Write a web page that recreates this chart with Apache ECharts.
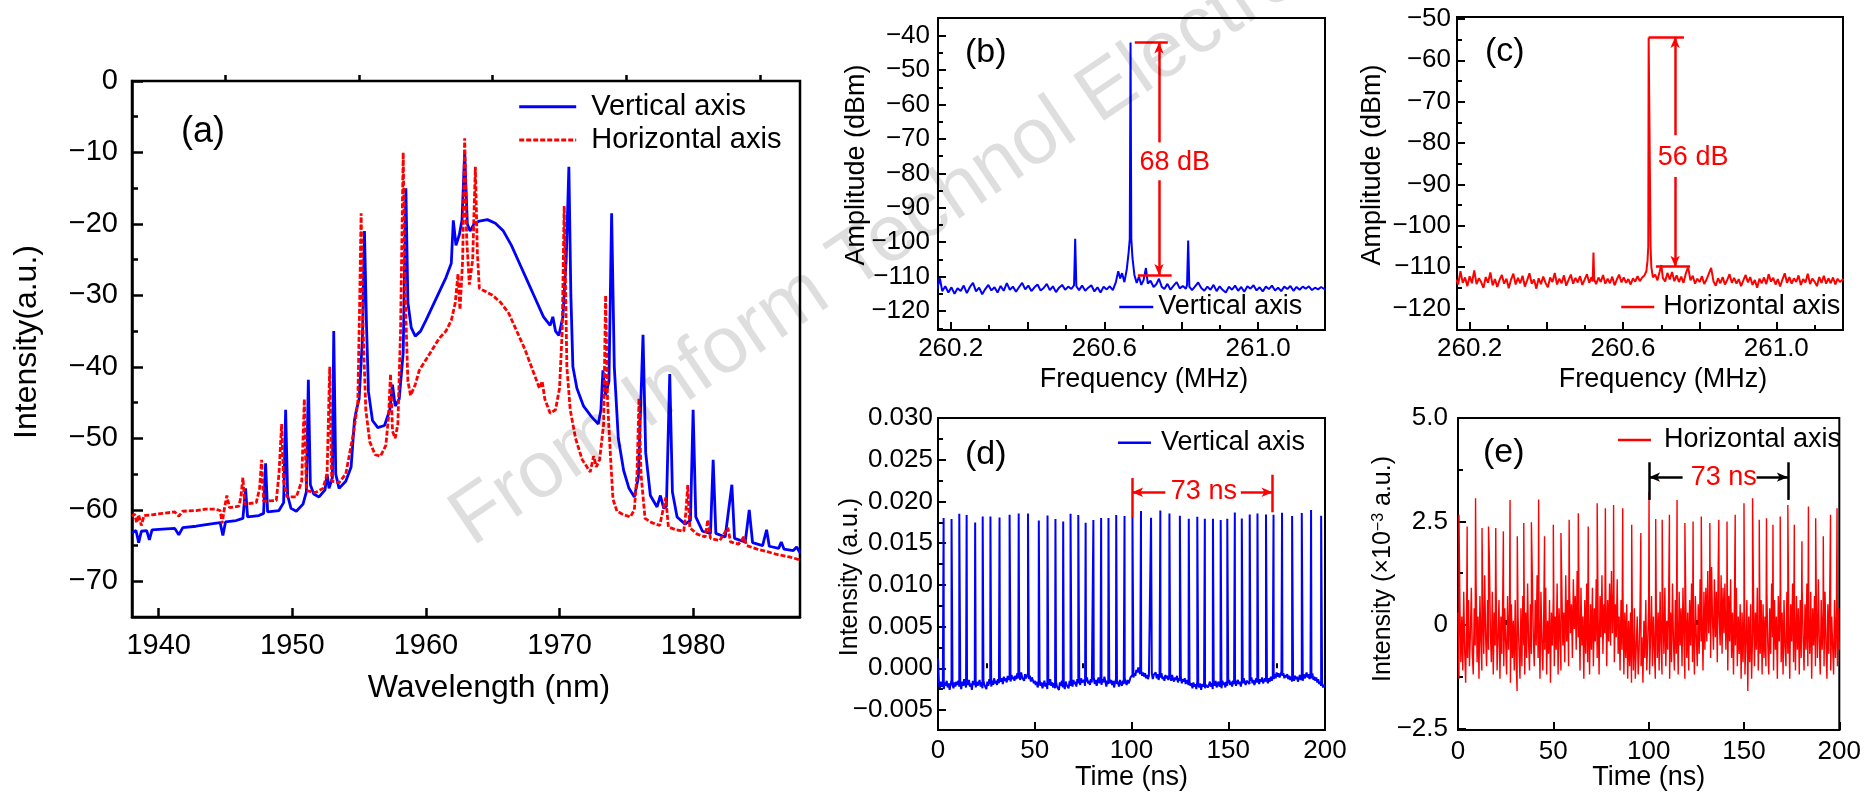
<!DOCTYPE html>
<html><head><meta charset="utf-8">
<script src="https://cdn.jsdelivr.net/npm/echarts@6/dist/echarts.min.js"></script>
<style>html,body{margin:0;padding:0;background:#fff}#c{width:1864px;height:793px}</style>
</head><body><div id="c"></div>
<script>
// ---------------- (a) optical spectra: [wavelength nm, intensity] ----------------
const aBlue = [[1938.0,-63.2],[1938.3,-62.9],[1938.5,-64.6],[1938.7,-63.0],[1939.1,-62.9],[1939.3,-64.2],[1939.5,-62.8],[1940.3,-62.7],[1941.2,-62.6],[1941.5,-63.5],[1941.8,-62.5],[1942.8,-62.3],[1943.8,-62.0],[1944.6,-61.8],[1944.8,-63.6],[1945.0,-61.7],[1945.8,-61.5],[1946.3,-61.2],[1946.5,-57.0],[1946.65,-61.0],[1947.5,-60.8],[1947.85,-60.5],[1948.0,-53.5],[1948.15,-60.3],[1949.0,-60.1],[1949.35,-59.0],[1949.5,-46.0],[1949.65,-58.0],[1949.9,-59.8],[1950.3,-60.2],[1950.8,-59.2],[1951.05,-57.5],[1951.2,-41.8],[1951.35,-56.5],[1951.6,-57.8],[1952.0,-58.2],[1952.45,-57.2],[1952.6,-55.0],[1952.75,-57.0],[1953.0,-55.5],[1953.1,-35.0],[1953.25,-55.0],[1953.5,-57.0],[1954.0,-56.0],[1954.4,-54.0],[1954.65,-47.5],[1954.8,-46.0],[1955.0,-44.5],[1955.25,-36.0],[1955.4,-21.0],[1955.55,-34.0],[1955.7,-43.5],[1956.0,-47.5],[1956.4,-48.5],[1956.9,-48.2],[1957.3,-46.0],[1957.5,-42.5],[1957.7,-45.5],[1958.0,-44.5],[1958.3,-38.0],[1958.5,-15.0],[1958.65,-31.0],[1958.9,-34.5],[1959.2,-35.7],[1959.6,-35.0],[1960.0,-33.5],[1960.5,-31.5],[1961.0,-29.5],[1961.5,-27.5],[1961.9,-25.5],[1962.05,-19.5],[1962.25,-23.0],[1962.5,-21.5],[1962.7,-19.5],[1962.9,-10.0],[1963.1,-20.0],[1963.3,-21.0],[1963.6,-20.0],[1964.0,-19.6],[1964.6,-19.4],[1965.2,-19.9],[1965.8,-21.0],[1966.4,-23.0],[1967.0,-25.5],[1967.6,-28.0],[1968.2,-30.5],[1968.8,-33.0],[1969.3,-34.2],[1969.5,-33.0],[1969.7,-35.0],[1969.95,-35.6],[1970.25,-33.0],[1970.5,-25.0],[1970.7,-12.0],[1970.85,-30.0],[1971.0,-40.0],[1971.3,-43.0],[1971.8,-45.5],[1972.4,-47.0],[1972.9,-48.0],[1973.1,-46.0],[1973.25,-40.5],[1973.45,-44.0],[1973.7,-42.0],[1973.9,-18.5],[1974.1,-40.0],[1974.4,-50.0],[1974.8,-54.5],[1975.2,-57.0],[1975.6,-58.2],[1975.9,-55.5],[1976.25,-35.5],[1976.45,-52.0],[1976.8,-58.0],[1977.3,-59.6],[1977.55,-58.0],[1977.8,-59.8],[1978.0,-59.5],[1978.25,-41.0],[1978.45,-57.5],[1978.8,-61.0],[1979.4,-62.0],[1979.8,-61.5],[1980.0,-46.0],[1980.2,-61.0],[1980.7,-63.0],[1981.3,-63.3],[1981.5,-53.0],[1981.7,-63.3],[1982.4,-63.8],[1982.9,-56.5],[1983.1,-64.0],[1983.9,-64.5],[1984.2,-60.0],[1984.45,-64.6],[1985.2,-65.0],[1985.5,-62.8],[1985.7,-65.1],[1986.4,-65.4],[1986.6,-64.5],[1986.8,-65.5],[1987.5,-65.7],[1987.75,-65.2],[1988.0,-66.0]];
const aRed = [[1938.0,-60.9],[1938.2,-60.6],[1938.35,-61.8],[1938.5,-60.7],[1938.7,-62.2],[1938.9,-60.8],[1939.5,-60.7],[1940.3,-60.5],[1941.2,-60.3],[1941.5,-60.9],[1941.8,-60.2],[1942.8,-60.1],[1943.5,-59.9],[1944.2,-59.9],[1944.6,-60.1],[1944.75,-61.9],[1944.9,-60.0],[1945.1,-58.0],[1945.3,-59.7],[1946.0,-59.5],[1946.15,-58.2],[1946.3,-55.5],[1946.45,-59.2],[1947.3,-59.0],[1947.55,-57.0],[1947.7,-53.0],[1947.85,-58.8],[1948.8,-58.7],[1949.0,-55.0],[1949.2,-48.0],[1949.35,-56.0],[1949.6,-58.2],[1950.3,-58.2],[1950.7,-56.0],[1950.9,-44.5],[1951.05,-57.3],[1951.7,-57.6],[1952.3,-57.0],[1952.6,-55.0],[1952.8,-40.0],[1952.95,-56.0],[1953.5,-56.2],[1954.0,-55.0],[1954.3,-52.0],[1954.6,-49.0],[1954.9,-45.0],[1955.05,-30.0],[1955.15,-18.5],[1955.3,-35.0],[1955.5,-46.0],[1955.8,-50.5],[1956.2,-52.3],[1956.6,-52.5],[1957.0,-51.0],[1957.2,-47.0],[1957.35,-41.0],[1957.5,-49.0],[1957.7,-50.0],[1957.9,-48.0],[1958.1,-35.0],[1958.3,-10.0],[1958.45,-30.0],[1958.65,-42.0],[1958.85,-44.0],[1959.2,-42.5],[1959.5,-40.5],[1960.0,-39.0],[1960.5,-37.5],[1961.0,-36.0],[1961.5,-35.0],[1961.9,-33.5],[1962.2,-31.0],[1962.4,-27.0],[1962.55,-32.0],[1962.75,-25.0],[1962.9,-8.0],[1963.05,-22.0],[1963.25,-28.5],[1963.5,-25.0],[1963.7,-12.0],[1963.85,-24.0],[1964.0,-29.0],[1964.5,-29.5],[1965.0,-30.0],[1965.6,-31.0],[1966.2,-32.5],[1966.8,-35.0],[1967.4,-37.5],[1968.0,-40.5],[1968.5,-43.0],[1968.7,-42.0],[1968.9,-44.5],[1969.3,-46.5],[1969.7,-46.0],[1970.0,-43.0],[1970.2,-35.0],[1970.35,-17.5],[1970.55,-40.0],[1970.8,-46.0],[1971.2,-50.0],[1971.7,-53.0],[1972.3,-54.7],[1972.55,-52.5],[1972.75,-54.0],[1973.0,-53.0],[1973.3,-48.0],[1973.45,-30.0],[1973.6,-45.0],[1973.8,-52.0],[1974.0,-58.5],[1974.3,-60.2],[1974.8,-60.7],[1975.3,-61.0],[1975.6,-60.0],[1975.8,-55.0],[1975.95,-44.4],[1976.1,-55.0],[1976.4,-61.2],[1976.9,-61.8],[1977.5,-62.2],[1977.75,-60.0],[1977.95,-58.3],[1978.15,-62.4],[1978.7,-62.8],[1979.3,-63.0],[1979.45,-60.5],[1979.6,-56.5],[1979.75,-62.5],[1980.3,-63.4],[1980.9,-63.8],[1981.1,-61.4],[1981.3,-64.0],[1982.0,-64.3],[1982.6,-62.5],[1982.8,-64.5],[1983.4,-64.8],[1983.8,-63.8],[1984.0,-65.0],[1984.8,-65.5],[1985.6,-65.9],[1986.4,-66.3],[1987.2,-66.6],[1988.0,-67.0]];
const aXLabels = [1940,1950,1960,1970,1980];
const aXMinor = [1945,1955,1965,1975,1985];
const aYLabels = [0,-10,-20,-30,-40,-50,-60,-70];
const aYMinor = [-5,-15,-25,-35,-45,-55,-65];

// ---------------- (b) RF spectrum, vertical axis: [MHz, dBm] ----------------
const bBlue = [[260.165,-113.5],[260.172,-110.5],[260.178,-114.2],[260.186,-112.8],[260.194,-114.6],[260.202,-113.1],[260.210,-115.0],[260.218,-113.4],[260.226,-114.2],[260.234,-112.6],[260.242,-114.8],[260.250,-113.0],[260.258,-111.8],[260.266,-114.3],[260.274,-113.2],[260.282,-115.1],[260.290,-113.6],[260.298,-112.4],[260.306,-114.0],[260.314,-113.1],[260.322,-114.6],[260.330,-112.7],[260.338,-114.1],[260.346,-111.9],[260.354,-113.8],[260.362,-112.9],[260.370,-114.4],[260.378,-113.0],[260.386,-111.8],[260.394,-113.7],[260.402,-112.6],[260.410,-114.2],[260.418,-113.1],[260.426,-112.3],[260.434,-114.0],[260.442,-113.3],[260.450,-112.1],[260.458,-113.9],[260.466,-112.8],[260.474,-114.5],[260.482,-113.2],[260.490,-112.4],[260.498,-113.8],[260.506,-112.9],[260.514,-113.6],[260.521,-112.5],[260.524,-99.0],[260.527,-112.8],[260.534,-113.9],[260.542,-112.6],[260.550,-114.1],[260.558,-113.2],[260.566,-112.5],[260.574,-114.3],[260.582,-113.1],[260.590,-114.6],[260.598,-112.9],[260.606,-113.7],[260.614,-112.8],[260.622,-113.9],[260.630,-111.5],[260.636,-108.4],[260.641,-110.5],[260.646,-109.0],[260.652,-111.6],[260.658,-108.0],[260.663,-103.0],[260.666,-99.0],[260.668,-42.0],[260.670,-99.0],[260.673,-104.5],[260.678,-109.5],[260.684,-111.8],[260.690,-110.0],[260.696,-112.4],[260.702,-111.0],[260.708,-107.5],[260.713,-112.0],[260.720,-111.2],[260.728,-113.0],[260.735,-112.2],[260.742,-110.6],[260.749,-112.9],[260.756,-113.6],[260.764,-112.1],[260.772,-113.8],[260.780,-112.6],[260.788,-111.6],[260.796,-113.4],[260.804,-112.7],[260.812,-113.5],[260.815,-112.4],[260.818,-99.5],[260.821,-112.9],[260.828,-113.9],[260.836,-112.8],[260.844,-111.7],[260.852,-113.3],[260.860,-114.1],[260.868,-112.9],[260.876,-113.8],[260.884,-112.4],[260.892,-114.2],[260.900,-112.8],[260.908,-113.9],[260.916,-114.6],[260.924,-112.9],[260.932,-113.8],[260.940,-112.6],[260.948,-114.1],[260.956,-113.0],[260.964,-114.4],[260.972,-112.8],[260.980,-113.5],[260.988,-112.5],[260.996,-114.0],[261.004,-113.1],[261.012,-114.3],[261.020,-112.9],[261.028,-113.6],[261.036,-112.6],[261.044,-114.0],[261.052,-113.2],[261.060,-114.2],[261.068,-112.9],[261.076,-113.6],[261.084,-112.7],[261.092,-114.1],[261.100,-113.0],[261.108,-113.8],[261.116,-112.9],[261.124,-113.5],[261.132,-112.8],[261.140,-113.9],[261.148,-113.2],[261.156,-113.7],[261.164,-113.0],[261.175,-113.8]];
const bTopBar = [[260.679,-42.0],[260.765,-42.0]];
const bBottomBar = [[260.687,-109.5],[260.775,-109.5]];
const bArrowX = 260.742;
const bArrowUp = [-71.0,-42.0];
const bArrowDown = [-82.0,-109.5];
const bText = [260.783,-76.9,'68 dB'];

// ---------------- (c) RF spectrum, horizontal axis ----------------
const cRed = [[260.165,-113.0],[260.170,-114.2],[260.176,-111.0],[260.182,-113.8],[260.188,-112.5],[260.194,-114.6],[260.200,-112.2],[260.206,-113.9],[260.212,-110.8],[260.218,-114.1],[260.224,-112.7],[260.230,-113.6],[260.236,-115.0],[260.242,-112.4],[260.248,-113.8],[260.254,-111.3],[260.260,-114.4],[260.266,-112.9],[260.272,-114.8],[260.278,-113.1],[260.284,-111.9],[260.290,-114.0],[260.296,-112.8],[260.302,-115.1],[260.308,-113.0],[260.314,-111.6],[260.320,-114.2],[260.326,-112.6],[260.332,-113.9],[260.338,-112.1],[260.344,-114.7],[260.350,-113.2],[260.356,-111.5],[260.362,-114.0],[260.368,-113.0],[260.374,-115.2],[260.380,-112.7],[260.386,-114.1],[260.392,-112.3],[260.398,-113.8],[260.404,-114.9],[260.410,-112.5],[260.416,-113.6],[260.422,-111.4],[260.428,-114.2],[260.434,-112.8],[260.440,-113.9],[260.446,-112.0],[260.452,-114.5],[260.458,-113.1],[260.464,-111.8],[260.470,-114.0],[260.476,-112.6],[260.482,-113.7],[260.488,-112.2],[260.494,-114.3],[260.500,-113.0],[260.506,-111.7],[260.512,-113.8],[260.518,-112.4],[260.521,-113.5],[260.523,-106.5],[260.525,-113.0],[260.530,-114.1],[260.536,-112.5],[260.542,-113.6],[260.548,-111.9],[260.554,-114.0],[260.560,-112.8],[260.566,-113.9],[260.572,-112.3],[260.578,-114.4],[260.584,-113.0],[260.590,-111.8],[260.596,-113.7],[260.602,-112.5],[260.608,-113.8],[260.614,-112.9],[260.620,-114.2],[260.626,-112.7],[260.632,-113.5],[260.638,-112.2],[260.644,-113.4],[260.650,-112.5],[260.656,-112.0],[260.661,-111.0],[260.664,-108.5],[260.666,-105.0],[260.667,-54.5],[260.671,-54.5],[260.672,-105.0],[260.674,-110.0],[260.678,-112.5],[260.684,-111.8],[260.690,-113.2],[260.696,-111.0],[260.700,-109.5],[260.704,-112.6],[260.710,-113.5],[260.716,-111.4],[260.722,-113.0],[260.728,-111.2],[260.734,-113.4],[260.740,-112.0],[260.746,-113.6],[260.752,-112.3],[260.758,-113.8],[260.764,-111.5],[260.770,-110.0],[260.776,-113.2],[260.782,-112.1],[260.788,-114.0],[260.794,-112.8],[260.800,-113.6],[260.806,-112.2],[260.812,-114.1],[260.818,-113.0],[260.824,-111.6],[260.830,-110.2],[260.836,-113.4],[260.842,-114.5],[260.848,-112.7],[260.854,-113.9],[260.860,-112.4],[260.866,-114.2],[260.872,-113.1],[260.878,-111.7],[260.884,-113.8],[260.890,-112.6],[260.896,-114.0],[260.902,-112.9],[260.908,-114.6],[260.914,-113.2],[260.920,-111.9],[260.926,-113.7],[260.932,-112.4],[260.938,-114.3],[260.944,-113.1],[260.950,-115.0],[260.956,-112.8],[260.962,-113.9],[260.968,-112.5],[260.974,-114.1],[260.980,-111.7],[260.986,-113.5],[260.992,-112.6],[260.998,-114.2],[261.004,-112.9],[261.010,-114.7],[261.016,-113.0],[261.022,-111.5],[261.028,-113.8],[261.034,-112.4],[261.040,-114.0],[261.046,-112.7],[261.052,-113.6],[261.058,-112.0],[261.064,-114.3],[261.070,-112.9],[261.076,-113.7],[261.082,-111.6],[261.088,-114.1],[261.094,-112.8],[261.100,-113.5],[261.106,-114.6],[261.112,-112.4],[261.118,-113.8],[261.124,-112.1],[261.130,-114.0],[261.136,-112.7],[261.142,-113.9],[261.148,-112.5],[261.154,-114.2],[261.160,-112.8],[261.166,-113.6],[261.175,-112.9]];
const cTopBar = [[260.667,-54.4],[260.759,-54.4]];
const cBottomBar = [[260.686,-109.9],[260.775,-109.9]];
const cArrowX = 260.736;
const cArrowUp = [-78.1,-54.4];
const cArrowDown = [-88.2,-109.9];
const cText = [260.783,-83.4,'56 dB'];

const rfXLabels = [260.2,260.6,261.0];
const rfXTicks = [260.2,260.4,260.6,260.8,261.0];
const rfXMinor = [260.3,260.5,260.7,260.9,261.1];
const bYLabels = [-40,-50,-60,-70,-80,-90,-100,-110,-120];
const bYMinor = [-45,-55,-65,-75,-85,-95,-105,-115,-125];
const cYLabels = [-50,-60,-70,-80,-90,-100,-110,-120];
const cYMinor = [-55,-65,-75,-85,-95,-105,-115];

// ---------------- (d) pulse train, vertical axis (values in 10^-3 a.u.) ----------------
const dSampleStep = 0.5; // ns between baseline samples
const dBaseline = [
1.2,-1.8,-2.4,-1.6,-2.2,-1.9,-2.5,-1.7,-2.1,-1.5,-2.3,-1.8,-2.6,-1.9,-1.4,-2.0,-2.4,-1.7,-2.2,-1.6,
-2.0,-1.5,-2.2,-1.8,-2.5,-1.6,-2.1,-1.3,-1.9,-2.3,-1.7,-2.0,-1.4,-2.2,-1.8,-2.6,-1.5,-2.0,-1.7,-2.3,
-1.6,-2.1,-1.9,-1.4,-2.2,-1.7,-2.4,-1.5,-2.0,-1.8,-2.5,-1.6,-2.1,-1.3,-1.9,-2.2,-1.5,-2.0,-1.2,-1.8,
-1.5,-2.0,-1.3,-1.8,-1.1,-1.6,-1.2,-1.9,-1.0,-1.5,-1.2,-1.7,-0.9,-1.4,-1.1,-1.6,-0.8,-1.3,-1.0,-1.5,
-0.9,-1.3,-0.6,-1.2,-0.8,-1.4,-0.5,-1.1,-0.9,-1.5,-0.7,-1.2,-1.0,-0.6,-1.3,-0.9,-1.6,-1.1,-1.4,-1.8,
-1.5,-2.0,-1.6,-2.3,-1.8,-1.4,-2.1,-1.7,-2.4,-1.9,-1.5,-2.2,-1.8,-2.5,-1.6,-2.0,-1.3,-2.1,-1.7,-2.3,
-1.8,-2.4,-1.6,-2.2,-2.0,-2.6,-1.7,-2.1,-1.5,-2.3,-1.9,-2.5,-1.6,-2.0,-1.8,-2.4,-1.5,-2.1,-1.7,-2.2,
-1.4,-1.9,-1.6,-2.2,-1.3,-1.8,-1.5,-2.0,-1.2,-1.7,-1.9,-1.4,-2.1,-1.6,-1.1,-1.8,-1.5,-2.0,-1.3,-1.7,
-1.6,-1.2,-1.9,-1.4,-2.1,-1.5,-1.1,-1.8,-1.4,-2.0,-1.3,-1.7,-1.0,-1.6,-2.2,-1.5,-1.9,-1.2,-1.8,-1.4,
-2.0,-1.5,-2.3,-1.7,-1.3,-1.9,-1.6,-2.2,-1.4,-1.8,-2.1,-1.5,-1.9,-1.2,-1.7,-2.0,-1.4,-1.8,-1.5,-1.1,
-1.3,-0.8,-1.1,-0.6,-0.9,-0.2,-0.5,0.1,-0.4,-0.7,-0.3,-0.9,-0.5,-1.0,-0.6,-1.2,-0.8,-1.3,-0.9,-0.7,
-1.1,-0.6,-1.3,-0.8,-1.0,-0.5,-1.2,-0.7,-1.4,-0.9,-1.1,-0.6,-1.3,-1.0,-1.5,-0.8,-1.2,-0.9,-1.4,-1.1,
-1.0,-1.5,-0.8,-1.3,-1.6,-1.1,-1.4,-0.9,-1.7,-1.2,-1.5,-1.0,-1.8,-1.3,-1.6,-1.2,-1.9,-1.4,-1.7,-2.0,
-1.6,-2.1,-1.8,-2.4,-1.7,-2.2,-1.9,-2.5,-1.6,-2.0,-2.3,-1.8,-2.6,-1.9,-2.2,-1.7,-2.4,-2.0,-1.8,-2.3,
-2.0,-1.6,-2.2,-1.8,-2.5,-1.7,-2.1,-1.5,-2.3,-1.9,-1.6,-2.2,-1.8,-2.4,-1.5,-2.0,-1.7,-2.3,-1.6,-2.1,
-1.8,-1.4,-2.0,-1.6,-2.2,-1.5,-1.9,-1.3,-2.1,-1.7,-1.4,-1.9,-1.6,-2.2,-1.5,-1.8,-1.2,-1.7,-2.0,-1.5,
-1.7,-1.3,-1.9,-1.5,-1.1,-1.8,-1.4,-2.0,-1.6,-1.2,-1.7,-1.4,-1.9,-1.3,-1.6,-1.1,-1.8,-1.5,-1.2,-1.6,
-1.4,-1.8,-1.2,-1.6,-1.0,-1.5,-0.9,-1.3,-0.7,-1.2,-0.5,-1.0,-0.6,-1.1,-0.8,-0.4,-0.9,-0.6,-1.2,-0.8,
-1.1,-0.7,-1.3,-0.9,-1.4,-1.0,-1.6,-1.1,-1.5,-0.9,-1.3,-1.0,-1.6,-1.2,-0.8,-1.4,-1.0,-1.5,-0.7,-1.2,
-0.9,-0.5,-1.1,-0.7,-1.3,-0.8,-1.2,-0.6,-1.4,-1.0,-1.5,-1.1,-1.7,-1.3,-1.9,-1.6,-2.1,-1.8,-2.3,-2.0,
-2.2];
const dPulseT = [2.9,7.0,11.0,14.8,19.2,23.1,27.1,31.8,37.0,41.7,46.5,52.1,56.6,60.7,64.7,68.5,72.5,76.3,80.3,84.3,88.1,92.1,96.4,100.5,104.9,110.1,114.9,119.6,125.0,129.6,134.0,137.9,142.1,146.1,149.5,153.4,157.0,161.1,165.1,169.5,173.4,177.8,183.0,188.0,192.8,198.0];
const dPulseV = [18.00,17.88,18.52,18.36,17.48,18.20,18.20,18.08,18.40,18.56,18.56,17.72,18.32,17.88,17.60,18.52,18.36,17.44,17.76,18.00,18.00,18.36,18.24,18.12,18.84,18.04,18.92,18.56,18.28,17.92,18.16,17.92,17.92,17.76,17.92,18.68,17.96,18.44,18.56,18.44,18.40,18.64,18.24,18.60,18.96,18.28];
const dBarL = [100.3,18.1,22.8];
const dBarR = [172.9,18.7,23.2];
const dArrowY = 21.1;
const dArrowL = [117.5,100.3];
const dArrowR = [156.5,172.9];
const dText = [137.4,21.2,'73 ns'];
const tXLabels = [0,50,100,150,200];
const tXMinor = [25,75,125,175];
const dYLabels = [-5,0,5,10,15,20,25,30];
const dYMinor = [-2.5,2.5,7.5,12.5,17.5,22.5,27.5];

// ---------------- (e) pulse train, horizontal axis (×10^-3 a.u.) ----------------
const eSampleStep = 0.5;
const eNoise = [
0.3,-1.3,0.5,-0.9,0.2,-1.1,0.8,-0.6,-1.4,0.1,-0.8,0.6,-1.0,-0.2,0.9,-0.7,-1.2,0.4,-0.5,1.0,
-0.9,0.2,-1.3,0.7,-0.4,-1.1,0.5,-0.7,1.2,-0.3,-1.0,0.6,-0.6,1.5,-0.2,-0.9,0.8,-1.2,0.3,-0.5,
0.9,-1.1,-0.3,0.6,-1.3,0.2,-0.7,0.8,-1.0,0.4,-0.4,-1.2,0.7,-0.6,0.3,-1.4,0.5,-0.8,0.1,-1.1,
0.6,-0.9,-1.6,0.2,-0.6,-1.3,0.4,-1.0,0.7,-0.5,-1.2,0.3,-0.8,1.0,-0.4,-1.1,0.5,-0.7,1.1,-0.3,
-1.0,0.6,-0.5,1.2,-0.8,0.2,-1.3,0.8,-0.4,-1.1,0.4,-0.6,0.9,-1.2,0.1,-0.7,0.6,-1.4,0.3,-0.5,
0.7,-1.0,0.2,-0.6,1.0,-1.2,0.4,-0.3,-1.1,0.8,-0.5,0.3,-0.9,1.2,-0.4,0.6,-1.0,0.9,-0.2,0.5,
-0.8,1.1,-0.1,0.7,-0.6,1.3,-0.3,0.4,-1.1,0.9,-0.5,0.2,-1.3,0.6,-0.7,1.0,-0.9,0.3,-1.2,0.5,
-0.6,0.9,-1.0,0.4,-0.4,1.1,-0.8,0.2,-1.2,0.7,-0.3,1.2,-0.7,0.5,-0.2,0.9,-1.0,0.6,-0.4,1.0,
-0.5,1.3,-0.2,0.8,-0.9,0.5,-0.3,1.1,-0.7,0.2,-1.1,0.6,-0.6,0.9,-1.2,0.3,-0.8,0.5,-1.3,0.1,
-1.0,0.3,-1.4,-0.2,-1.1,0.4,-1.3,-0.5,0.2,-1.2,-0.6,0.5,-1.0,-0.3,-1.4,0.1,-0.8,0.6,-1.1,-0.4,
0.4,-1.2,-0.3,0.7,-1.0,0.2,-0.6,-1.3,0.5,-0.8,0.3,-1.1,0.8,-0.5,-1.2,0.4,-0.7,0.9,-1.0,0.1,
-0.6,0.7,-1.3,0.3,-0.9,1.0,-0.4,-1.1,0.6,-0.7,0.2,-1.2,0.8,-0.5,0.4,-1.0,0.9,-0.3,-1.3,0.5,
-0.8,0.3,-1.1,0.6,-0.5,1.0,-0.9,0.2,-1.2,0.7,-0.3,-1.0,0.5,-0.7,1.1,-0.4,0.3,-1.1,0.8,-0.6,
0.9,-0.4,1.3,-0.2,0.6,-0.8,1.4,0.1,-0.6,1.1,-0.3,0.8,-0.9,1.5,0.2,-0.5,1.2,-0.7,0.9,-0.2,
1.0,-0.6,0.4,-1.1,0.7,-0.4,1.1,-0.8,0.3,-1.2,0.6,-0.5,0.9,-1.0,0.2,-0.7,0.5,-1.3,0.3,-0.9,
0.4,-1.2,-0.4,0.6,-1.6,0.2,-0.9,0.5,-1.3,-0.2,0.7,-1.0,0.3,-0.6,0.9,-1.1,0.1,-0.7,0.6,-1.2,
0.5,-0.8,0.2,-1.0,0.8,-0.5,-1.2,0.4,-0.7,1.0,-0.3,-1.1,0.6,-0.6,0.2,-1.3,0.7,-0.4,0.9,-0.9,
0.3,-1.2,0.6,-0.5,-1.0,0.8,-0.7,0.2,-1.3,0.5,-0.4,1.0,-0.9,0.3,-1.1,0.7,-0.6,0.4,-1.2,0.6,
-0.8,0.9,-0.3,-1.1,0.5,-0.6,1.0,-1.0,0.2,-0.7,0.8,-1.3,0.4,-0.5,0.7,-1.0,0.3,-0.8,1.1,-0.4,
-1.2,0.6,-0.6,0.3,-1.0,0.8,-0.4,-1.3,0.5,-0.7,0.9,-1.1,0.2,-0.5,-1.2,0.6,-0.8,0.3,-1.0,0.4,
-0.6];
const eSpikeT = [0.5,4.8,9.2,12.6,16.0,19.8,23.8,27.3,31.1,34.5,38.5,42.3,45.4,50.0,54.0,58.3,63.1,68.3,73.0,77.3,81.6,86.4,91.1,95.9,100.2,103.7,107.1,110.9,114.9,119.0,123.3,127.6,132.1,136.8,141.1,145.4,150.0,154.5,158.0,161.8,165.2,169.0,173.0,176.4,180.4,183.8,187.6,191.6,195.4,198.8];
const eSpikeV = [2.66,2.38,3.06,2.34,2.38,2.34,2.26,3.02,2.14,2.46,2.48,3.03,2.14,2.42,2.22,2.54,2.70,2.38,2.94,2.82,2.90,2.82,2.42,2.22,3.21,2.56,2.54,2.66,3.02,2.46,2.50,2.62,2.46,2.54,2.50,2.66,2.94,3.06,2.54,2.58,2.42,2.62,2.90,2.42,2.02,2.86,2.58,2.14,2.66,2.82];
const eBarL = [100.2,3.02,3.93];
const eBarR = [173.0,3.02,3.93];
const eArrowY = 3.57;
const eArrowL = [117.8,100.2];
const eArrowR = [156.6,173.0];
const eText = [139.4,3.57,'73 ns'];
const eYLabels = [5.0,2.5,0,-2.5];
const eYMinor = [3.75,1.25,-1.25];

// ---------------- build ----------------
const FONT = '"Liberation Sans", Arial, Helvetica, sans-serif';
const BLUE = '#0000ff', RED = '#ff0000', BLACK = '#000000';
const MINUS = '\u2212';
const fmtInt = v => (v < 0 ? MINUS : '') + String(Math.abs(v));
const fmt1 = v => v.toFixed(1);
const fmtMilli = v => (v < 0 ? MINUS : '') + (Math.abs(v) / 1000).toFixed(3);
const fmtE = v => v === 0 ? '0' : (v < 0 ? MINUS : '') + Math.abs(v).toFixed(1);

function trace(samples, step, spikeT, spikeV) {
  const pts = samples.map((v, i) => [i * step, v]);
  spikeT.forEach((t, i) => pts.push([t, spikeV[i]]));
  pts.sort((p, q) => p[0] - q[0]);
  return pts;
}

function axes(dim, grid, c) {
  const pos = dim === 'x' ? 'bottom' : 'left';
  const line = {color: BLACK, width: c.lw};
  const main = {
    type: 'value', gridIndex: grid, position: pos, min: c.min, max: c.max,
    axisLine: {show: true, onZero: false, lineStyle: line},
    axisTick: {show: true, inside: true, length: c.major, customValues: c.ticks, lineStyle: line},
    axisLabel: {show: true, customValues: c.labels, formatter: c.fmt, fontSize: c.fs, fontFamily: FONT, color: BLACK, margin: c.margin},
    splitLine: {show: false},
    name: c.name, nameLocation: 'middle', nameGap: c.nameGap, nameMoveOverlap: false,
    nameTextStyle: Object.assign({fontSize: c.nfs, fontFamily: FONT, color: BLACK, lineHeight: c.nfs, padding: c.npad || 0}, c.nextra || {})
  };
  const minor = {
    type: 'value', gridIndex: grid, position: pos, min: c.min, max: c.max, offset: 0,
    axisLine: {show: false},
    axisTick: {show: true, inside: true, length: c.minor, customValues: c.minors, lineStyle: line},
    axisLabel: {show: false}, splitLine: {show: false}
  };
  return [main, minor];
}

const xAxes = [].concat(
  axes('x', 0, {min: 1938, max: 1988, labels: aXLabels, ticks: aXLabels, minors: aXMinor, fmt: fmtInt, fs: 29, margin: 14, lw: 2.5, major: 9, minor: 6, name: 'Wavelength (nm)', nameGap: 55, nfs: 32, npad: [0, 0, 0, 46]}),
  axes('x', 1, {min: 260.167, max: 261.174, labels: rfXLabels, ticks: rfXTicks, minors: rfXMinor, fmt: fmt1, fs: 26, margin: 6, lw: 2, major: 8, minor: 5, name: 'Frequency (MHz)', nameGap: 36, nfs: 27, npad: [0, 0, 0, 25]}),
  axes('x', 2, {min: 260.167, max: 261.174, labels: rfXLabels, ticks: rfXTicks, minors: rfXMinor, fmt: fmt1, fs: 26, margin: 6, lw: 2, major: 8, minor: 5, name: 'Frequency (MHz)', nameGap: 36, nfs: 27, npad: [0, 0, 0, 26]}),
  axes('x', 3, {min: 0, max: 200, labels: tXLabels, ticks: tXLabels, minors: tXMinor, fmt: fmtInt, fs: 26, margin: 8, lw: 2, major: 8, minor: 5, name: 'Time (ns)', nameGap: 34, nfs: 27}),
  axes('x', 4, {min: 0, max: 200, labels: tXLabels, ticks: tXLabels, minors: tXMinor, fmt: fmtInt, fs: 26, margin: 9, lw: 2, major: 8, minor: 5, name: 'Time (ns)', nameGap: 34, nfs: 27})
);
const yAxes = [].concat(
  axes('y', 0, {min: -75, max: 0, labels: aYLabels, ticks: aYLabels, minors: aYMinor, fmt: fmtInt, fs: 29, margin: 14, lw: 2.5, major: 11, minor: 6, name: 'Intensity(a.u.)', nameGap: 89, nfs: 32, npad: [0, 0, 0, 14]}),
  axes('y', 1, {min: -125.5, max: -34.85, labels: bYLabels, ticks: bYLabels, minors: bYMinor, fmt: fmtInt, fs: 26, margin: 8, lw: 2, major: 8, minor: 5, name: 'Amplitude (dBm)', nameGap: 68, nfs: 27, npad: [0, 0, 0, 18]}),
  axes('y', 2, {min: -125.2, max: -49.54, labels: cYLabels, ticks: cYLabels, minors: cYMinor, fmt: fmtInt, fs: 26, margin: 6, lw: 2, major: 8, minor: 5, name: 'Amplitude (dBm)', nameGap: 71, nfs: 27, npad: [0, 0, 0, 17]}),
  axes('y', 3, {min: -7.4, max: 30, labels: dYLabels, ticks: dYLabels, minors: dYMinor, fmt: fmtMilli, fs: 26, margin: 5, lw: 2, major: 8, minor: 5, name: 'Intensity (a.u.)', nameGap: 75, nfs: 25, npad: [0, 6, 0, 0]}),
  axes('y', 4, {min: -2.54, max: 5.0, labels: eYLabels, ticks: eYLabels, minors: eYMinor, fmt: fmtE, fs: 26, margin: 10, lw: 2, major: 8, minor: 5,
    name: '{n|Intensity (\u00d710}{s|\u22123}{n| a.u.)}', nameGap: 62, nfs: 25, npad: [0, 0, 0, 10],
    nextra: {rich: {n: {fontSize: 25, fontFamily: FONT, color: BLACK, lineHeight: 25}, s: {fontSize: 16, fontFamily: FONT, color: BLACK, verticalAlign: 'top', lineHeight: 25}}}})
);

function seg(p, q, endSymbol) {
  return [{coord: p, symbol: 'none'}, {coord: q, symbol: endSymbol || 'none', symbolSize: [7, 11]}];
}
function textPoint(t, color, fs) {
  return {silent: true, animation: false, symbol: 'rect', symbolSize: 1, itemStyle: {color: 'rgba(0,0,0,0)'},
    label: {show: true, position: 'inside', formatter: t[2], color: color, fontSize: fs, fontFamily: FONT},
    data: [{coord: [t[0], t[1]], value: t[2]}]};
}
function dbMarks(top, bottom, ax, up, down, color) {
  return {silent: true, animation: false, symbol: 'none', label: {show: false}, emphasis: {disabled: true},
    lineStyle: {color: color, width: 2.5, type: 'solid'},
    data: [seg(top[0], top[1]), seg(bottom[0], bottom[1]),
      seg([ax, up[0]], [ax, up[1]], 'arrow'), seg([ax, down[0]], [ax, down[1]], 'arrow')]};
}
function spanMarks(barL, barR, ay, al, ar, color) {
  return {silent: true, animation: false, symbol: 'none', label: {show: false}, emphasis: {disabled: true},
    lineStyle: {color: color, width: 2.5, type: 'solid'},
    data: [seg([barL[0], barL[1]], [barL[0], barL[2]]), seg([barR[0], barR[1]], [barR[0], barR[2]]),
      seg([al[0], ay], [al[1], ay], 'arrow'), seg([ar[0], ay], [ar[1], ay], 'arrow')]};
}

const common = {type: 'line', symbol: 'none', showSymbol: false, animation: false, silent: true, emphasis: {disabled: true}};
const series = [
  Object.assign({}, common, {name: 'Vertical axis', xAxisIndex: 0, yAxisIndex: 0, data: aBlue, lineStyle: {color: BLUE, width: 2.8}, itemStyle: {color: BLUE}}),
  Object.assign({}, common, {name: 'Horizontal axis', xAxisIndex: 0, yAxisIndex: 0, data: aRed, lineStyle: {color: RED, width: 2.8, type: [5, 2]}, itemStyle: {color: RED}}),
  Object.assign({}, common, {name: 'Vertical axis', xAxisIndex: 2, yAxisIndex: 2, data: bBlue, lineStyle: {color: BLUE, width: 2}, itemStyle: {color: BLUE},
    markLine: dbMarks(bTopBar, bBottomBar, bArrowX, bArrowUp, bArrowDown, RED), markPoint: textPoint(bText, RED, 27)}),
  Object.assign({}, common, {name: 'Horizontal axis', xAxisIndex: 4, yAxisIndex: 4, data: cRed, lineStyle: {color: RED, width: 2}, itemStyle: {color: RED},
    markLine: dbMarks(cTopBar, cBottomBar, cArrowX, cArrowUp, cArrowDown, RED), markPoint: textPoint(cText, RED, 27)}),
  Object.assign({}, common, {name: 'Vertical axis', xAxisIndex: 6, yAxisIndex: 6, data: trace(dBaseline, dSampleStep, dPulseT, dPulseV), lineStyle: {color: BLUE, width: 2}, itemStyle: {color: BLUE},
    markLine: spanMarks(dBarL, dBarR, dArrowY, dArrowL, dArrowR, RED), markPoint: textPoint(dText, RED, 27)}),
  Object.assign({}, common, {name: 'Horizontal axis', xAxisIndex: 8, yAxisIndex: 8, data: trace(eNoise, eSampleStep, eSpikeT, eSpikeV), lineStyle: {color: RED, width: 1.4}, itemStyle: {color: RED},
    markLine: spanMarks(eBarL, eBarR, eArrowY, eArrowL, eArrowR, BLACK), markPoint: textPoint(eText, RED, 27)})
];

const HIDE_SYMBOL = {color: 'rgba(0,0,0,0)', opacity: 0, borderWidth: 0};
function legend(items, left, top, iw, ih, fs, padL, gap) {
  return {data: items, left: left, top: top, orient: 'vertical', padding: 0, itemWidth: iw, itemHeight: ih, itemGap: gap || 0,
    selectedMode: false, itemStyle: HIDE_SYMBOL,
    textStyle: {fontSize: fs, fontFamily: FONT, color: BLACK, lineHeight: ih, padding: [0, 0, 0, padL]}};
}
const legends = [
  legend([{name: 'Vertical axis', itemStyle: HIDE_SYMBOL, lineStyle: {color: BLUE, width: 3, type: 'solid'}}, {name: 'Horizontal axis', itemStyle: HIDE_SYMBOL, lineStyle: {color: RED, width: 3, type: [5, 2]}}], 517.7, 91.7, 57, 30, 29, 10, 3.3),
  legend([{name: 'Vertical axis', itemStyle: HIDE_SYMBOL, lineStyle: {color: BLUE, width: 2.5, type: 'solid'}}], 1118, 293, 34, 28, 27, 0),
  legend([{name: 'Horizontal axis', itemStyle: HIDE_SYMBOL, lineStyle: {color: RED, width: 2.5, type: 'solid'}}], 1620, 293, 33, 28, 27, 4),
  legend([{name: 'Vertical axis', itemStyle: HIDE_SYMBOL, lineStyle: {color: BLUE, width: 2.5, type: 'solid'}}], 1116.7, 428.7, 33, 28, 27, 5),
  legend([{name: 'Horizontal axis', itemStyle: HIDE_SYMBOL, lineStyle: {color: RED, width: 2.5, type: 'solid'}}], 1616.7, 426, 33, 28, 27, 8)
];

function label(t, x, y, fs) {
  return {type: 'text', x: x, y: y, z: 50, silent: true,
    style: {text: t, fill: BLACK, font: fs + 'px ' + FONT, textAlign: 'left', textVerticalAlign: 'middle', align: 'left', verticalAlign: 'middle'}};
}

const option = {
  animation: false,
  backgroundColor: '#ffffff',
  grid: [
    {left: 132, top: 81, width: 668, height: 536, show: true, borderColor: BLACK, borderWidth: 2.5, containLabel: false},
    {left: 938, top: 18, width: 387, height: 312, show: true, borderColor: BLACK, borderWidth: 2, containLabel: false},
    {left: 1457, top: 17, width: 386, height: 313, show: true, borderColor: BLACK, borderWidth: 2, containLabel: false},
    {left: 938, top: 418, width: 387, height: 312, show: true, borderColor: BLACK, borderWidth: 2, containLabel: false},
    {left: 1458, top: 418, width: 385, height: 312, show: true, borderColor: BLACK, borderWidth: 2, containLabel: false}
  ],
  xAxis: xAxes,
  yAxis: yAxes,
  legend: legends,
  series: series,
  graphic: [
    label('(a)', 181, 132, 36),
    label('(b)', 965, 53, 34),
    label('(c)', 1485, 52, 34),
    label('(d)', 965, 455, 34),
    label('(e)', 1483, 453, 34),
    {type: 'text', x: 482, y: 562, rotation: 34 * Math.PI / 180, z: 100, silent: true,
      style: {text: 'From Inform Technol Electron', fill: 'rgba(0,0,0,0.13)', font: '80px ' + FONT,
        textAlign: 'left', textVerticalAlign: 'bottom', align: 'left', verticalAlign: 'bottom'}}
  ]
};

const chart = echarts.init(document.getElementById('c'), null, {renderer: 'canvas'});
chart.setOption(option);
</script>
</body></html>
